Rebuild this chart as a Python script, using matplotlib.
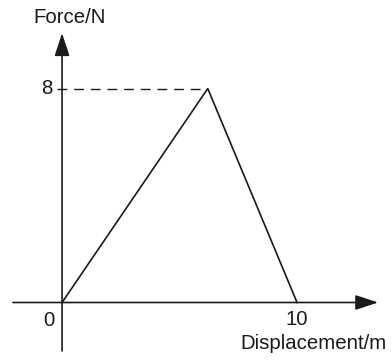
import matplotlib.pyplot as plt

plt.rcParams['font.family'] = ['Liberation Sans', 'DejaVu Sans']

# force-displacement profile
disp = [0, 6.2, 10]
force = [0, 8, 0]
peak_force = 8
x_ticks = [0, 10]

fig = plt.figure(figsize=(3.92, 3.6), dpi=100)
ax = fig.add_axes([0, 0, 1, 1])
ax.set_xlim(-2.64, 14.04)
ax.set_ylim(-2.15, 11.31)
ax.axis('off')

ink = '#1a1a1a'
lw = 1.2

# axes with arrowheads
arrow = dict(arrowstyle='-|>,head_length=0.7,head_width=0.23', color=ink,
             lw=lw, mutation_scale=20, shrinkA=0, shrinkB=0)
ax.annotate('', xy=(13.45, 0), xytext=(-2.09, 0), arrowprops=arrow)
ax.annotate('', xy=(0, 10.07), xytext=(0, -1.81), arrowprops=arrow)

# the force curve
ax.plot(disp, force, color=ink, lw=lw, solid_joinstyle='miter')

# dashed guide to the peak
peak_x = disp[force.index(peak_force)]
ax.plot([-0.2, peak_x], [peak_force, peak_force], color=ink, lw=1.0,
        dashes=(7, 5))

fs = 14.7
ax.text(-0.64, peak_force, str(peak_force), fontsize=fs, ha='center',
        va='center', color=ink)
ax.text(-0.55, -0.69, str(x_ticks[0]), fontsize=fs, ha='center',
        va='center', color=ink)
ax.text(x_ticks[1], -0.65, str(x_ticks[1]), fontsize=fs, ha='center',
        va='center', color=ink)
ax.text(-1.23, 10.46, 'Force/N', fontsize=fs, ha='left', va='baseline',
        color=ink)
ax.text(13.83, -1.74, 'Displacement/m', fontsize=fs, ha='right',
        va='baseline', color=ink)

fig.savefig('out.png', dpi=100)
